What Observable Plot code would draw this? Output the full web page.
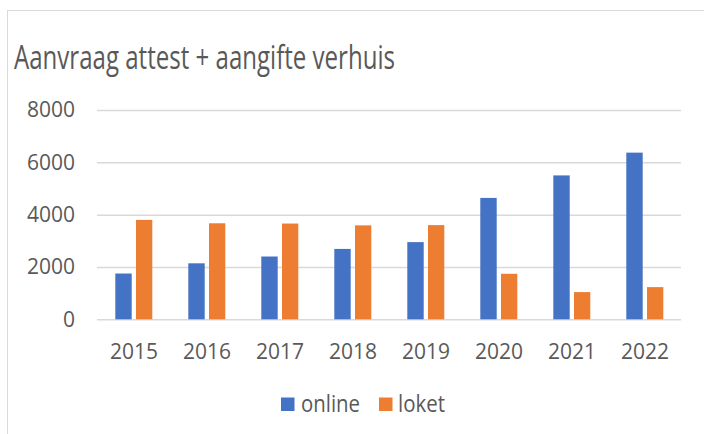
<!DOCTYPE html>
<html>
<head>
<meta charset="utf-8">
<script src="https://cdn.jsdelivr.net/npm/d3@7"></script>
<script src="https://cdn.jsdelivr.net/npm/@observablehq/plot@0.6"></script>
<style>
  html, body { margin: 0; padding: 0; background: #fff; }
  body { width: 704px; height: 434px; position: relative; overflow: hidden; font-family: "Open Sans", sans-serif; }
  #frame { position: absolute; left: 7px; top: 10px; width: 800px; height: 600px; border: 1.5px solid #d9d9d9; box-sizing: border-box; }
  #chart { position: absolute; left: 0; top: 90px; }
  #overlay { position: absolute; left: 0; top: 0; }
</style>
</head>
<body>
<div id="frame"></div>
<div id="chart"></div>
<svg id="overlay" width="704" height="434"></svg>
<script>
const title = "Aanvraag attest + aangifte verhuis";
const years = ["2015", "2016", "2017", "2018", "2019", "2020", "2021", "2022"];
const series = ["online", "loket"];
const online = [1750, 2140, 2400, 2690, 2950, 4640, 5500, 6370];
const loket = [3800, 3670, 3660, 3590, 3600, 1740, 1040, 1230];
const colors = ["#4472C4", "#ED7D31"];
const yTicks = [0, 2000, 4000, 6000, 8000];

const onlineData = years.map((y, i) => ({year: y, series: series[0], value: online[i]}));
const loketData = years.map((y, i) => ({year: y, series: series[1], value: loket[i]}));

const chart = Plot.plot({
  width: 704,
  height: 280,
  marginTop: 20,
  marginBottom: 50.7,
  marginLeft: 97,
  marginRight: 23,
  style: {fontFamily: "'Open Sans', sans-serif", fontSize: "21px", color: "#595959", background: "transparent", overflow: "visible"},
  x: {domain: years, padding: 0, label: null, tickSize: 0, tickPadding: 24.5},
  y: {domain: [0, 8000], ticks: yTicks, label: null, tickSize: 0, tickPadding: 22.5, tickFormat: d => String(d)},
  color: {domain: series, range: colors},
  marks: [
    Plot.ruleY(yTicks, {stroke: "#d9d9d9", strokeWidth: 1.5}),
    Plot.barY(onlineData, {x: "year", y: "value", fill: "series", insetLeft: 18.3, insetRight: 38.3}),
    Plot.barY(loketData, {x: "year", y: "value", fill: "series", insetLeft: 39, insetRight: 17.7})
  ]
});
document.getElementById("chart").appendChild(chart);

// Title and legend overlay
const svg = d3.select("#overlay");
svg.append("text")
  .attr("x", 14).attr("y", 68.5)
  .attr("font-family", "'Open Sans', sans-serif")
  .attr("font-size", 33)
  .attr("fill", "#595959")
  .attr("textLength", 381)
  .attr("lengthAdjust", "spacingAndGlyphs")
  .text(title);

const legendItems = [
  {name: series[0], color: colors[0], sx: 281, tx: 301, tw: 59},
  {name: series[1], color: colors[1], sx: 379, tx: 398, tw: 47}
];
for (const it of legendItems) {
  svg.append("rect").attr("x", it.sx).attr("y", 397.5).attr("width", 13.5).attr("height", 13.5).attr("fill", it.color);
  svg.append("text")
    .attr("x", it.tx).attr("y", 411.5)
    .attr("font-family", "'Open Sans', sans-serif")
    .attr("font-size", 23)
    .attr("fill", "#595959")
    .attr("textLength", it.tw)
    .attr("lengthAdjust", "spacingAndGlyphs")
    .text(it.name);
}
</script>
</body>
</html>
